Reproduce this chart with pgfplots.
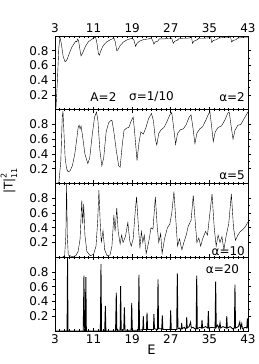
\documentclass[border=0pt]{standalone}
\usepackage{fontspec}
\setmainfont{DejaVu Sans}
\usepackage{pgfplots}
\pgfplotsset{compat=1.18}
\pgfplotsset{
  panel/.style={
    width=193pt, height=73.75pt, scale only axis,
    xmin=3, xmax=43, ymin=0, ymax=1,
    xtick={3,11,19,27,35,43}, minor x tick num=7,
    ytick={0.2,0.4,0.6,0.8}, minor y tick num=1,
    tick align=inside,
    ytick align=outside,
    major tick length=3pt, minor tick length=1.6pt,
    every tick/.style={black, line width=0.7pt},
    axis line style={line width=0.9pt},
    /pgf/number format/assume math mode=true,
    tick label style={font=\fontsize{12}{12}\selectfont},
    cycle list={{black, line width=1.25pt, no marks}},
    clip=true,
  }
}
\begin{document}
\begin{tikzpicture}
\path[use as bounding box] (0,0) rectangle (258pt,364pt);
% ---------- panel 1 : alpha = 2
\begin{axis}[panel, at={(55pt,254.25pt)}, anchor=south west, xticklabel pos=upper]
\addplot coordinates {(3,0) (3.2,0.02) (3.5,0.4) (3.8,0.85) (4.05,0.98) (4.3,0.9) (4.7,0.72) (5.1,0.65) (5.5,0.68) (6.0,0.77) (6.5,0.85) (7.0,0.9) (7.3,0.93) (7.5,0.92) (7.7,0.96) (7.9,0.93) (8.2,0.8) (8.4,0.73) (8.8,0.78) (9.3,0.86) (9.9,0.92) (10.5,0.95) (11.0,0.97) (11.4,0.99) (11.7,0.9) (12.0,0.76) (12.2,0.74) (12.5,0.8) (13.0,0.87) (13.7,0.92) (14.5,0.95) (15.2,0.97) (15.5,0.92) (15.8,0.8) (16.0,0.81) (16.5,0.87) (17.2,0.92) (18,0.95) (19,0.97) (19.4,0.94) (19.7,0.86) (20,0.9) (20.5,0.93) (21.3,0.95) (22.3,0.96) (23.0,0.97) (23.3,0.93) (23.5,0.89) (23.8,0.92) (24.3,0.93) (24.6,0.96) (25.5,0.96) (26.5,0.97) (27.2,0.97) (27.5,0.9) (27.8,0.93) (28.3,0.94) (28.6,0.96) (29.5,0.97) (30.5,0.97) (31.3,0.98) (31.5,0.9) (31.8,0.93) (32.5,0.95) (32.8,0.97) (34,0.97) (35.3,0.98) (35.5,0.91) (35.8,0.94) (36.5,0.95) (36.8,0.97) (38,0.98) (39.4,0.98) (39.6,0.92) (39.9,0.94) (40.5,0.95) (40.8,0.97) (42,0.98) (43,0.98)};
\node[font=\fontsize{12}{12}\selectfont] at (rel axis cs:0.251,0.173) {A=2};
\node[font=\fontsize{12}{12}\selectfont] at (rel axis cs:0.5,0.173) {σ=1/10};
\node[font=\fontsize{12}{12}\selectfont, anchor=east, inner sep=1pt] at (rel axis cs:0.99,0.173) {α=2};
\end{axis}
% ---------- panel 2 : alpha = 5
\begin{axis}[panel, at={(55pt,180.5pt)}, anchor=south west, xticklabels={}]
\addplot coordinates {(3,0) (3.8,0.01) (4.2,0.3) (4.5,0.9) (4.65,0.98) (4.85,0.7) (5.1,0.35) (5.4,0.2) (5.7,0.16) (6.1,0.17) (6.6,0.24) (7.1,0.4) (7.5,0.6) (7.8,0.76) (8.0,0.79) (8.2,0.74) (8.4,0.78) (8.7,0.65) (9.2,0.4) (9.8,0.27) (10.2,0.35) (10.7,0.65) (11.2,0.9) (11.6,0.97) (11.9,0.85) (12.3,0.45) (12.7,0.24) (13.1,0.35) (13.6,0.7) (14.1,0.82) (14.5,0.85) (14.8,0.86) (15.2,0.7) (15.7,0.45) (16.2,0.24) (16.5,0.22) (16.9,0.5) (17.3,0.72) (17.8,0.75) (18.3,0.76) (18.8,0.85) (19.2,0.9) (19.5,0.7) (20.0,0.31) (20.4,0.55) (20.8,0.7) (21.3,0.67) (21.8,0.75) (22.4,0.88) (23.0,0.95) (23.4,0.85) (23.8,0.6) (24.1,0.52) (24.5,0.68) (25.0,0.73) (25.6,0.76) (26.2,0.84) (26.8,0.93) (27.2,0.96) (27.6,0.75) (28.0,0.53) (28.4,0.68) (29,0.73) (29.6,0.74) (30.2,0.8) (30.8,0.9) (31.2,0.93) (31.6,0.75) (32.0,0.54) (32.4,0.68) (33,0.74) (33.6,0.77) (34.2,0.85) (34.8,0.94) (35.1,0.97) (35.5,0.75) (35.8,0.57) (36.2,0.7) (36.8,0.76) (37.5,0.78) (38.2,0.86) (38.8,0.95) (39.1,0.97) (39.5,0.78) (39.9,0.6) (40.3,0.72) (40.9,0.79) (41.5,0.8) (42.2,0.88) (43,0.97)};
\node[font=\fontsize{12}{12}\selectfont, anchor=east, inner sep=1pt] at (rel axis cs:0.99,0.115) {α=5};
\end{axis}
% ---------- panel 3 : alpha = 10
\begin{axis}[panel, at={(55pt,106.75pt)}, anchor=south west, xticklabels={}]
\addplot coordinates {(3,0) (4.5,0.0) (5.0,0.02) (5.25,0.3) (5.4,1.0) (5.55,0.3) (5.75,0.03) (6.5,0.01) (7.3,0.02) (7.8,0.08) (8.2,0.25) (8.55,0.77) (8.75,0.45) (8.95,0.72) (9.2,0.3) (9.6,0.08) (10.3,0.02) (11.0,0.04) (11.5,0.15) (11.85,0.5) (12.1,0.91) (12.35,0.5) (12.6,0.2) (12.95,0.36) (13.3,0.1) (13.8,0.02) (14.4,0.03) (14.8,0.15) (15.2,0.57) (15.45,0.35) (15.8,0.67) (16.1,0.35) (16.5,0.18) (16.8,0.3) (17.1,0.2) (17.6,0.28) (18.1,0.47) (18.5,0.22) (18.8,0.15) (19.2,0.25) (19.6,0.6) (19.9,0.82) (20.3,0.4) (20.6,0.12) (20.9,0.35) (21.2,0.2) (21.5,0.3) (21.9,0.05) (22.4,0.2) (22.9,0.4) (23.3,0.38) (23.8,0.82) (24.2,0.4) (24.5,0.2) (24.9,0.32) (25.2,0.05) (25.7,0.25) (26.3,0.4) (26.8,0.45) (27.2,0.6) (27.65,0.89) (28.1,0.45) (28.4,0.15) (28.8,0.25) (29.3,0.1) (29.7,0.2) (30.2,0.3) (30.6,0.42) (31.2,0.5) (31.65,0.84) (32.1,0.45) (32.4,0.2) (32.8,0.26) (33.2,0.15) (33.6,0.25) (34.2,0.35) (34.6,0.3) (35.1,0.6) (35.55,0.86) (36.0,0.4) (36.4,0.15) (36.8,0.3) (37.2,0.2) (37.6,0.28) (38.0,0.1) (38.5,0.3) (39.0,0.45) (39.55,0.86) (40.0,0.4) (40.4,0.23) (40.9,0.3) (41.4,0.35) (42,0.38) (42.5,0.42) (43,0.48)};
\node[font=\fontsize{12}{12}\selectfont, anchor=east, inner sep=1pt] at (rel axis cs:0.99,0.085) {α=10};
\end{axis}
% ---------- panel 4 : alpha = 20
\begin{axis}[panel, at={(55pt,33pt)}, anchor=south west, xlabel={E}, xlabel style={font=\fontsize{13}{13}\selectfont, inner sep=0pt, yshift=2pt}]
\addplot[black, line width=0.85pt] coordinates {(3,0) (5.5,0) (5.6,1.0) (5.7,0) (8.85,0) (9.0,0.75) (9.1,0.05) (9.25,0.02) (9.4,0.73) (9.5,0) (12.4,0) (12.53,0.91) (12.65,0) (13.3,0) (13.43,0.34) (13.55,0) (15.55,0) (15.7,0.52) (15.82,0.01) (16.5,0.01) (16.6,0.61) (16.72,0.01) (17.25,0.01) (17.37,0.32) (17.5,0.01) (18.78,0.01) (18.9,0.38) (19.02,0.01) (20.28,0.01) (20.4,0.76) (20.52,0.01) (21.2,0.02) (21.3,0.2) (21.4,0.02) (21.95,0.02) (22.07,0.25) (22.2,0.02) (23.4,0.02) (23.5,0.23) (23.62,0.03) (24.23,0.02) (24.35,0.7) (24.47,0.03) (25.12,0.03) (25.24,0.21) (25.36,0.02) (26.85,0.02) (26.97,0.28) (27.1,0.02) (28.22,0.02) (28.35,0.78) (28.48,0.03) (28.8,0.04) (29.0,0.02) (29.17,0.03) (29.26,0.11) (29.36,0.03) (29.8,0.05) (30.0,0.03) (30.2,0.04) (30.3,0.19) (30.4,0.04) (30.8,0.06) (31.1,0.12) (31.25,0.04) (31.6,0.05) (32.0,0.03) (32.25,0.03) (32.37,0.75) (32.5,0.03) (33.0,0.05) (33.35,0.04) (33.47,0.15) (33.6,0.04) (34.2,0.06) (34.66,0.04) (34.78,0.27) (34.9,0.04) (35.5,0.05) (36.18,0.04) (36.3,0.67) (36.42,0.05) (36.7,0.08) (37.0,0.03) (37.2,0.11) (37.35,0.04) (37.8,0.06) (38.48,0.04) (38.6,0.2) (38.72,0.04) (39.3,0.06) (39.8,0.03) (40.18,0.04) (40.3,0.63) (40.42,0.04) (41.0,0.06) (41.3,0.12) (41.45,0.04) (41.7,0.1) (41.85,0.03) (42.4,0.05) (42.75,0.04) (42.86,0.17) (43,0.04)};
\node[font=\fontsize{12}{12}\selectfont, anchor=east, inner sep=1pt] at (rel axis cs:0.96,0.84) {α=20};
\end{axis}
\node[rotate=90, font=\fontsize{12}{12}\selectfont] at (9pt,183pt) {|T|\rlap{\raisebox{0.9ex}{\fontsize{8}{8}\selectfont 2}}\raisebox{-0.7ex}{\fontsize{8}{8}\selectfont 11}};
\end{tikzpicture}
\end{document}
